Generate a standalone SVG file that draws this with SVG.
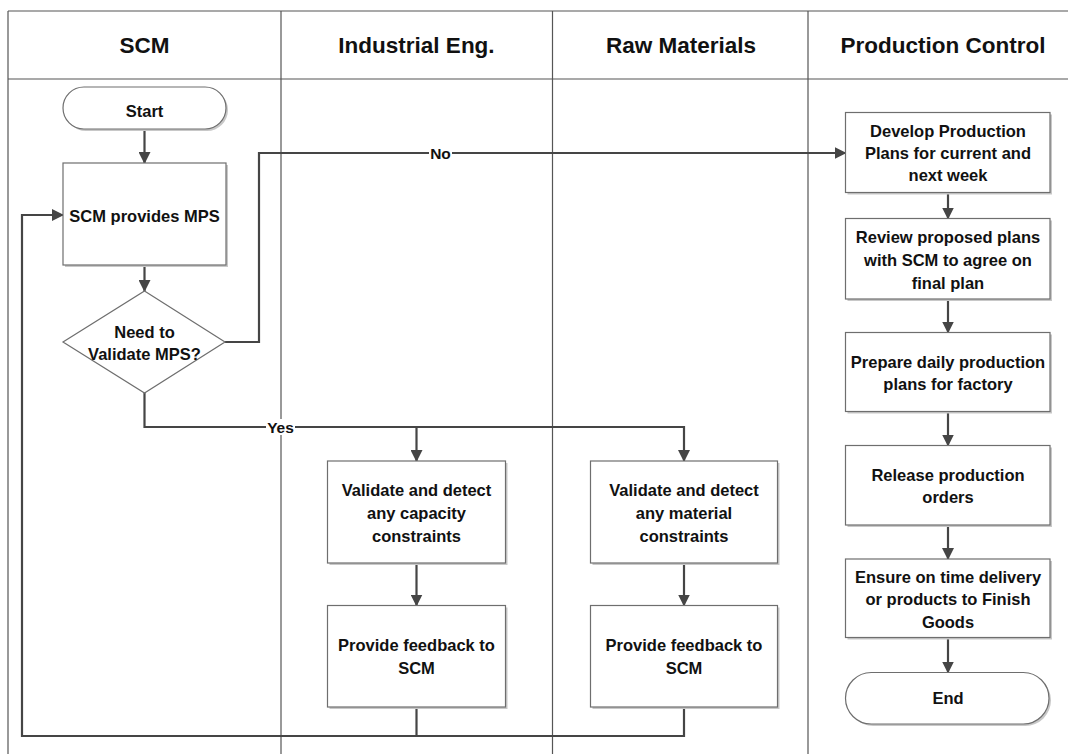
<svg xmlns="http://www.w3.org/2000/svg" width="1068" height="754" viewBox="0 0 1068 754">
<defs>
<style>
.lane{stroke:#555;stroke-width:1.2;fill:none}
.hdr{font-family:"Liberation Sans",Arial,sans-serif;font-weight:bold;font-size:22.5px;fill:#111;text-anchor:middle}
.node{fill:#fff;stroke:#6e6e6e;stroke-width:1.2}
.shadow{fill:#c8c8c8;stroke:none}
.t{font-family:"Liberation Sans",Arial,sans-serif;font-weight:bold;font-size:16.5px;fill:#111;text-anchor:middle;dominant-baseline:central}
.c{stroke:#454545;stroke-width:2.2;fill:none}
.lbl{font-family:"Liberation Sans",Arial,sans-serif;font-weight:bold;font-size:15.5px;fill:#111;text-anchor:middle;dominant-baseline:central}
</style>
<marker id="ah" markerWidth="12" markerHeight="12" refX="11" refY="6" orient="auto" markerUnits="userSpaceOnUse">
<path d="M0,0 L12,6 L0,12 Z" fill="#454545"/>
</marker>
</defs>
<rect width="1068" height="754" fill="#fff"/>
<g id="lanes">
<line class="lane" x1="8" y1="11" x2="1068" y2="11"/>
<line class="lane" x1="8" y1="79" x2="1068" y2="79"/>
<line class="lane" x1="8" y1="11" x2="8" y2="754"/>
<line class="lane" x1="281" y1="11" x2="281" y2="754"/>
<line class="lane" x1="552.5" y1="11" x2="552.5" y2="754"/>
<line class="lane" x1="808" y1="11" x2="808" y2="754"/>
<text class="hdr" x="144.5" y="53">SCM</text>
<text class="hdr" x="416.5" y="53">Industrial Eng.</text>
<text class="hdr" x="681" y="53">Raw Materials</text>
<text class="hdr" x="943" y="53">Production Control</text>
</g>
<g id="connectors">
<line class="c" x1="144.5" y1="129" x2="144.5" y2="163" marker-end="url(#ah)"/>
<line class="c" x1="144.5" y1="265" x2="144.5" y2="291" marker-end="url(#ah)"/>
<polyline class="c" points="225,342 259,342 259,153 845.5,153" marker-end="url(#ah)"/>
<polyline class="c" points="144.5,393 144.5,427 684,427 684,461" marker-end="url(#ah)"/>
<line class="c" x1="416.5" y1="427" x2="416.5" y2="461" marker-end="url(#ah)"/>
<line class="c" x1="416.5" y1="563" x2="416.5" y2="605.5" marker-end="url(#ah)"/>
<line class="c" x1="684" y1="563" x2="684" y2="605.5" marker-end="url(#ah)"/>
<polyline class="c" points="416.5,707 416.5,736"/>
<polyline class="c" points="684,707 684,736 22,736 22,215 63,215" marker-end="url(#ah)"/>
<line class="c" x1="948" y1="192.5" x2="948" y2="218.5" marker-end="url(#ah)"/>
<line class="c" x1="948" y1="299" x2="948" y2="332.5" marker-end="url(#ah)"/>
<line class="c" x1="948" y1="411.5" x2="948" y2="445.5" marker-end="url(#ah)"/>
<line class="c" x1="948" y1="525" x2="948" y2="559" marker-end="url(#ah)"/>
<line class="c" x1="948" y1="637.5" x2="948" y2="672.5" marker-end="url(#ah)"/>
<rect x="429" y="145" width="23" height="16" fill="#fff"/>
<text class="lbl" x="440.5" y="153">No</text>
<rect x="266" y="419" width="29" height="16" fill="#fff"/>
<text class="lbl" x="280.5" y="427">Yes</text>
</g>
<g id="start">
<rect class="shadow" x="65" y="89" width="163" height="42" rx="21"/>
<rect class="node" x="63" y="87" width="163" height="42" rx="21"/>
<text class="t" x="144.5" y="111">Start</text>
</g>
<g id="scm-provides">
<rect class="shadow" x="65" y="165" width="163" height="102"/>
<rect class="node" x="63" y="163" width="163" height="102"/>
<text class="t" x="144.5" y="216">SCM provides MPS</text>
</g>
<g id="decision">
<polygon class="node" points="144.5,291 225,342 144.5,393 63,342"/>
<text class="t" x="144.5" y="332">Need to</text>
<text class="t" x="144.5" y="354">Validate MPS?</text>
</g>
<g id="ie-validate">
<rect class="shadow" x="329.5" y="463" width="178" height="102"/>
<rect class="node" x="327.5" y="461" width="178" height="102"/>
<text class="t" x="416.5" y="490">Validate and detect</text>
<text class="t" x="416.5" y="513">any capacity</text>
<text class="t" x="416.5" y="536">constraints</text>
</g>
<g id="ie-feedback">
<rect class="shadow" x="329.5" y="607.5" width="178" height="101.5"/>
<rect class="node" x="327.5" y="605.5" width="178" height="101.5"/>
<text class="t" x="416.5" y="645">Provide feedback to</text>
<text class="t" x="416.5" y="668">SCM</text>
</g>
<g id="rm-validate">
<rect class="shadow" x="592.5" y="463" width="187" height="102"/>
<rect class="node" x="590.5" y="461" width="187" height="102"/>
<text class="t" x="684" y="490">Validate and detect</text>
<text class="t" x="684" y="513">any material</text>
<text class="t" x="684" y="536">constraints</text>
</g>
<g id="rm-feedback">
<rect class="shadow" x="592.5" y="607.5" width="187" height="101.5"/>
<rect class="node" x="590.5" y="605.5" width="187" height="101.5"/>
<text class="t" x="684" y="645">Provide feedback to</text>
<text class="t" x="684" y="668">SCM</text>
</g>
<g id="pc-develop">
<rect class="shadow" x="847.5" y="114.5" width="204.5" height="80"/>
<rect class="node" x="845.5" y="112.5" width="204.5" height="80"/>
<text class="t" x="948" y="131">Develop Production</text>
<text class="t" x="948" y="153">Plans for current and</text>
<text class="t" x="948" y="175">next week</text>
</g>
<g id="pc-review">
<rect class="shadow" x="847.5" y="220.5" width="204.5" height="80.5"/>
<rect class="node" x="845.5" y="218.5" width="204.5" height="80.5"/>
<text class="t" x="948" y="237">Review proposed plans</text>
<text class="t" x="948" y="260">with SCM to agree on</text>
<text class="t" x="948" y="282.5">final plan</text>
</g>
<g id="pc-prepare">
<rect class="shadow" x="847.5" y="334.5" width="204.5" height="79"/>
<rect class="node" x="845.5" y="332.5" width="204.5" height="79"/>
<text class="t" x="948" y="362">Prepare daily production</text>
<text class="t" x="948" y="384">plans for factory</text>
</g>
<g id="pc-release">
<rect class="shadow" x="847.5" y="447.5" width="204.5" height="79.5"/>
<rect class="node" x="845.5" y="445.5" width="204.5" height="79.5"/>
<text class="t" x="948" y="474.5">Release production</text>
<text class="t" x="948" y="496.5">orders</text>
</g>
<g id="pc-ensure">
<rect class="shadow" x="847.5" y="561" width="204.5" height="78.5"/>
<rect class="node" x="845.5" y="559" width="204.5" height="78.5"/>
<text class="t" x="948" y="576.5">Ensure on time delivery</text>
<text class="t" x="948" y="599">or products to Finish</text>
<text class="t" x="948" y="621.5">Goods</text>
</g>
<g id="end">
<rect class="shadow" x="847.5" y="674.5" width="203.5" height="51.5" rx="25.75"/>
<rect class="node" x="845.5" y="672.5" width="203.5" height="51.5" rx="25.75"/>
<text class="t" x="948" y="698">End</text>
</g>
</svg>
